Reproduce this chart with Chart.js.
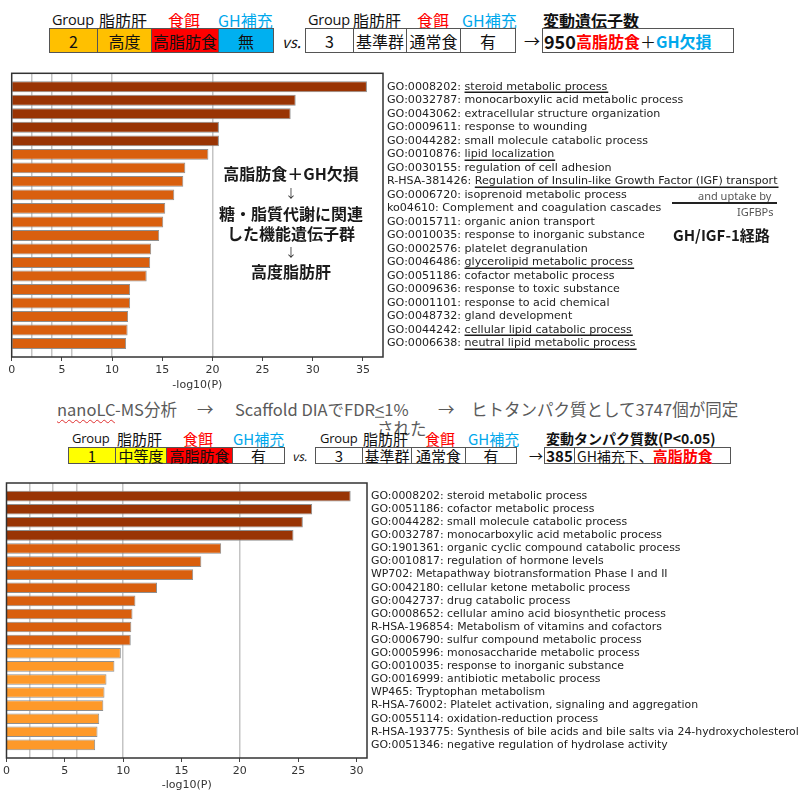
<!DOCTYPE html>
<html>
<head>
<meta charset="utf-8">
<script src="https://cdn.jsdelivr.net/npm/chart.js@4/dist/chart.umd.min.js"></script>
<style>
html,body{margin:0;padding:0;background:#fff;width:798px;height:791px;overflow:hidden;}
#page{position:relative;width:798px;height:791px;font-family:"Noto Sans CJK JP","Noto Sans",sans-serif;color:#111;}
.t{position:absolute;white-space:nowrap;line-height:1;transform:translateY(-50%);}
.c{position:absolute;box-sizing:border-box;border:1px solid #555;display:flex;align-items:center;justify-content:center;white-space:nowrap;line-height:1;}
.red{color:#ff0000;}
.blue{color:#00a8ec;}
.b{font-weight:bold;}
.grp{font-family:"Open Sans","Noto Sans",sans-serif;letter-spacing:-0.2px;}
.mid{color:#5a5a5a;font-size:16.5px;}
.note{position:absolute;left:291px;transform:translate(-50%,-50%);font-weight:bold;font-size:16px;color:#1a1a1a;white-space:nowrap;line-height:1;}
.arr{position:absolute;left:291px;transform:translate(-50%,-50%);font-size:12px;color:#333;line-height:1;}
.wrap{position:absolute;left:0;width:798px;overflow:hidden;}
</style>
</head>
<body>
<div id="page">

  <!-- header row: group 2 vs group 3 -->
  <div class="t grp" style="left:52px;top:20px;font-size:14.5px">Group</div>
  <div class="t" style="left:99px;top:20px;font-size:16px">脂肪肝</div>
  <div class="t red" style="left:168px;top:20px;font-size:16px">食餌</div>
  <div class="t blue" style="left:218px;top:20px;font-size:16px">GH補充</div>
  <div class="c" style="left:49px;top:28px;width:49px;height:25px;background:#ffc000;font-size:16px">2</div>
  <div class="c" style="left:97px;top:28px;width:55px;height:25px;background:#ffc000;font-size:16px">高度</div>
  <div class="c" style="left:151px;top:28px;width:68px;height:25px;background:#ff0000;font-size:16px">高脂肪食</div>
  <div class="c" style="left:218px;top:28px;width:56px;height:25px;background:#00b0f0;font-size:16px">無</div>
  <div class="t" style="left:282px;top:41px;font-size:15px;font-style:italic">vs.</div>
  <div class="t grp" style="left:308px;top:20px;font-size:14.5px">Group</div>
  <div class="t" style="left:353px;top:20px;font-size:16px">脂肪肝</div>
  <div class="t red" style="left:417px;top:20px;font-size:16px">食餌</div>
  <div class="t blue" style="left:462px;top:20px;font-size:16px">GH補充</div>
  <div class="c" style="left:305px;top:28px;width:49px;height:25px;font-size:16px">3</div>
  <div class="c" style="left:353px;top:28px;width:54px;height:25px;font-size:16px">基準群</div>
  <div class="c" style="left:406px;top:28px;width:55px;height:25px;font-size:16px">通常食</div>
  <div class="c" style="left:460px;top:28px;width:56px;height:25px;font-size:16px">有</div>
  <div class="t" style="left:524px;top:40px;font-size:16px">→</div>
  <div class="t b" style="left:543px;top:20px;font-size:16px">変動遺伝子数</div>
  <div class="c" style="left:542px;top:28px;width:192px;height:25px;justify-content:flex-start;padding-left:1px">
    <span class="b" style="font-size:18px">950</span><span class="b red" style="font-size:16px">高脂肪食</span><span style="font-size:16px">＋</span><span class="b blue" style="font-size:16px">GH欠損</span>
  </div>

  <!-- first enrichment chart -->
  <div class="wrap" style="top:60px;height:330px"><canvas id="topChart" width="798" height="336"></canvas></div>

  <div class="note" style="top:173px">高脂肪食＋GH欠損</div>
  <div class="arr" style="top:193px">↓</div>
  <div class="note" style="top:213px">糖・脂質代謝に関連</div>
  <div class="note" style="top:233px">した機能遺伝子群</div>
  <div class="arr" style="top:252px">↓</div>
  <div class="note" style="top:271px">高度脂肪肝</div>

  <div class="t" style="left:698px;top:195px;font-family:'Noto Sans';font-size:11px;color:#555">and uptake by</div>
  <div style="position:absolute;left:672px;top:202px;width:105px;height:1.5px;background:#222"></div>
  <div class="t" style="left:737px;top:211px;font-family:'Noto Sans';font-size:11px;color:#555">IGFBPs</div>
  <div class="t b" style="left:673px;top:234px;font-size:15px;color:#1a1a1a">GH/IGF-1経路</div>

  <!-- proteomics line -->
  <div class="t mid" style="left:57px;top:409px"><span style="text-decoration:underline wavy #e03030;text-decoration-thickness:1px;text-underline-offset:3px">nanoLC</span>-MS分析</div>
  <div class="t mid" style="left:197px;top:409px">→</div>
  <div class="t mid" style="left:235px;top:409px">Scaffold DIAでFDR<u>&lt;</u>1%</div>
  <div class="t mid" style="left:438px;top:409px">→</div>
  <div class="t mid" style="left:471px;top:409px">ヒトタンパク質として3747個が同定</div>
  <div class="t mid" style="left:377px;top:428px">された</div>

  <!-- header row: group 1 vs group 3 -->
  <div class="t grp" style="left:72px;top:438px;font-size:13px">Group</div>
  <div class="t" style="left:117px;top:438px;font-size:15px">脂肪肝</div>
  <div class="t red" style="left:183px;top:438px;font-size:15px">食餌</div>
  <div class="t blue" style="left:233px;top:438px;font-size:15px">GH補充</div>
  <div class="c" style="left:68px;top:447px;width:48px;height:17px;background:#ffff00;font-size:15px">1</div>
  <div class="c" style="left:115px;top:447px;width:52px;height:17px;background:#ffff00;font-size:15px">中等度</div>
  <div class="c" style="left:166px;top:447px;width:67px;height:17px;background:#ff0000;font-size:15px">高脂肪食</div>
  <div class="c" style="left:232px;top:447px;width:53px;height:17px;font-size:15px">有</div>
  <div class="t" style="left:292px;top:456px;font-size:12px;font-style:italic">vs.</div>
  <div class="t grp" style="left:320px;top:438px;font-size:13px">Group</div>
  <div class="t" style="left:363px;top:438px;font-size:15px">脂肪肝</div>
  <div class="t red" style="left:425px;top:438px;font-size:15px">食餌</div>
  <div class="t blue" style="left:468px;top:438px;font-size:15px">GH補充</div>
  <div class="c" style="left:315px;top:447px;width:48px;height:17px;font-size:15px">3</div>
  <div class="c" style="left:362px;top:447px;width:50px;height:17px;font-size:15px">基準群</div>
  <div class="c" style="left:411px;top:447px;width:55px;height:17px;font-size:15px">通常食</div>
  <div class="c" style="left:465px;top:447px;width:52px;height:17px;font-size:15px">有</div>
  <div class="t" style="left:529px;top:455px;font-size:14px">→</div>
  <div class="t b" style="left:546px;top:438px;font-size:14px">変動タンパク質数(P&lt;0.05)</div>
  <div class="c" style="left:544px;top:447px;width:187px;height:17px;justify-content:flex-start">
    <span class="b" style="font-size:15px;width:29px;text-align:center;border-right:1px solid #555;height:15px;line-height:15px">385</span><span style="font-size:14px;padding-left:2px">GH補充下、</span><span class="b red" style="font-size:15px">高脂肪食</span>
  </div>

  <!-- second enrichment chart -->
  <div class="wrap" style="top:470px;height:321px"><canvas id="bottomChart" width="798" height="326"></canvas></div>
</div>

<script>
// Enriched terms for the group 2 vs group 3 gene comparison
const topTerms = [
  "GO:0008202: steroid metabolic process",
  "GO:0032787: monocarboxylic acid metabolic process",
  "GO:0043062: extracellular structure organization",
  "GO:0009611: response to wounding",
  "GO:0044282: small molecule catabolic process",
  "GO:0010876: lipid localization",
  "GO:0030155: regulation of cell adhesion",
  "R-HSA-381426: Regulation of Insulin-like Growth Factor (IGF) transport",
  "GO:0006720: isoprenoid metabolic process",
  "ko04610: Complement and coagulation cascades",
  "GO:0015711: organic anion transport",
  "GO:0010035: response to inorganic substance",
  "GO:0002576: platelet degranulation",
  "GO:0046486: glycerolipid metabolic process",
  "GO:0051186: cofactor metabolic process",
  "GO:0009636: response to toxic substance",
  "GO:0001101: response to acid chemical",
  "GO:0048732: gland development",
  "GO:0044242: cellular lipid catabolic process",
  "GO:0006638: neutral lipid metabolic process"
];
const topValues = [35.4, 28.3, 27.8, 20.65, 20.65, 19.6, 17.3, 17.1, 16.2, 15.3,
                   15.1, 14.7, 13.9, 13.8, 13.45, 11.8, 11.8, 11.6, 11.55, 11.4];
// terms highlighted with an underline
const topUnderlined = [0, 5, 7, 13, 18, 19];

// Enriched terms for the group 1 vs group 3 protein comparison
const bottomTerms = [
  "GO:0008202: steroid metabolic process",
  "GO:0051186: cofactor metabolic process",
  "GO:0044282: small molecule catabolic process",
  "GO:0032787: monocarboxylic acid metabolic process",
  "GO:1901361: organic cyclic compound catabolic process",
  "GO:0010817: regulation of hormone levels",
  "WP702: Metapathway biotransformation Phase I and II",
  "GO:0042180: cellular ketone metabolic process",
  "GO:0042737: drug catabolic process",
  "GO:0008652: cellular amino acid biosynthetic process",
  "R-HSA-196854: Metabolism of vitamins and cofactors",
  "GO:0006790: sulfur compound metabolic process",
  "GO:0005996: monosaccharide metabolic process",
  "GO:0010035: response to inorganic substance",
  "GO:0016999: antibiotic metabolic process",
  "WP465: Tryptophan metabolism",
  "R-HSA-76002: Platelet activation, signaling and aggregation",
  "GO:0055114: oxidation-reduction process",
  "R-HSA-193775: Synthesis of bile acids and bile salts via 24-hydroxycholesterol",
  "GO:0051346: negative regulation of hydrolase activity"
];
const bottomValues = [29.5, 26.2, 25.4, 24.6, 18.4, 16.7, 16.0, 12.9, 11.05, 10.8,
                      10.7, 10.65, 9.8, 9.25, 8.57, 8.4, 8.3, 7.95, 7.8, 7.6];

// reference lines on the -log10(P) axis
const gridMarks = [2, 4, 6, 10, 20];

// bar colour by significance band
function binColor(v) {
  if (v >= 20) return '#993404';
  if (v >= 10) return '#d95f0e';
  return '#fe9929';
}

// plot frame plus underlines for highlighted term descriptions
const framePlugin = {
  id: 'frame',
  afterDatasetsDraw(chart) {
    const a = chart.chartArea, ctx = chart.ctx;
    ctx.save();
    ctx.strokeStyle = '#333';
    ctx.lineWidth = 1.5;
    ctx.strokeRect(a.left, a.top, a.right - a.left, a.bottom - a.top);
    ctx.restore();
  },
  afterDraw(chart, args, opts) {
    const list = opts.underline || [];
    if (!list.length) return;
    const ys = chart.scales.y, ctx = chart.ctx;
    const terms = opts.terms;
    const x0 = ys.left + opts.labelPad;
    ctx.save();
    ctx.font = opts.labelSize + 'px "DejaVu Sans"';
    ctx.strokeStyle = '#1a1a1a';
    ctx.lineWidth = 1.5;
    list.forEach(i => {
      const t = terms[i];
      const cut = t.indexOf(': ') + 2;
      const xs = x0 + ctx.measureText(t.slice(0, cut)).width;
      const xe = x0 + ctx.measureText(t).width;
      const y = Math.round(ys.getPixelForValue(i) + 5.5) + 0.25;
      ctx.beginPath();
      ctx.moveTo(xs, y);
      ctx.lineTo(xe + 1, y);
      ctx.stroke();
    });
    ctx.restore();
  }
};

function buildChart(id, terms, values, cfg) {
  return new Chart(document.getElementById(id), {
    type: 'bar',
    data: {
      datasets: [{
        data: values.map((v, i) => ({ x: v, y: i })),
        xAxisID: 'x',
        yAxisID: 'y',
        backgroundColor: values.map(binColor),
        borderColor: '#8f8f8f',
        borderWidth: 1,
        barPercentage: 0.9,
        categoryPercentage: 0.9
      }]
    },
    options: {
      indexAxis: 'y',
      responsive: false,
      animation: false,
      events: [],
      layout: { padding: { left: cfg.padLeft, top: cfg.padTop, right: 0, bottom: 0 } },
      plugins: {
        legend: { display: false },
        tooltip: { enabled: false },
        frame: { underline: cfg.underline || [], terms: terms, labelPad: cfg.labelPad, labelSize: cfg.labelSize }
      },
      scales: {
        x: {
          type: 'linear', position: 'bottom', min: 0, max: cfg.xMax,
          ticks: { stepSize: 5, includeBounds: false, padding: 3,
                   font: { family: 'DejaVu Sans', size: 11 }, color: '#333' },
          grid: { drawOnChartArea: false, drawTicks: true, tickLength: 4, tickColor: '#444' },
          border: { display: false },
          title: { display: true, text: '-log10(P)', color: '#333',
                   font: { family: 'DejaVu Sans', size: 11 }, padding: { top: 0, bottom: 4 } },
          afterFit: s => { s.height = cfg.axisH; }
        },
        xg: {
          type: 'linear', position: 'top', min: 0, max: cfg.xMax,
          afterBuildTicks: s => { s.ticks = gridMarks.map(v => ({ value: v })); },
          ticks: { display: false },
          grid: { drawOnChartArea: true, drawTicks: false, color: '#c4c4c4', lineWidth: 1.5 },
          border: { display: false },
          afterFit: s => { s.height = 0; }
        },
        y: {
          type: 'linear', position: 'right', reverse: true, offset: false,
          min: -1, max: terms.length,
          afterBuildTicks: s => { s.ticks = terms.map((_, i) => ({ value: i })); },
          ticks: { autoSkip: false, padding: cfg.labelPad,
                   font: { family: 'DejaVu Sans', size: cfg.labelSize }, color: '#222',
                   callback: v => terms[v] },
          grid: { offset: false, drawOnChartArea: false, drawTicks: false, tickLength: 0 },
          border: { display: false },
          afterFit: s => { s.width = cfg.axisW; }
        }
      }
    },
    plugins: [framePlugin]
  });
}

buildChart('topChart', topTerms, topValues, {
  xMax: 37, padLeft: 11.7, padTop: 13.3, axisH: 39, axisW: 415,
  labelPad: 4, labelSize: 11.1, underline: topUnderlined
});
buildChart('bottomChart', bottomTerms, bottomValues, {
  xMax: 30.9, padLeft: 5.7, padTop: 13, axisH: 38, axisW: 431,
  labelPad: 4, labelSize: 10.9
});
</script>
</body>
</html>
